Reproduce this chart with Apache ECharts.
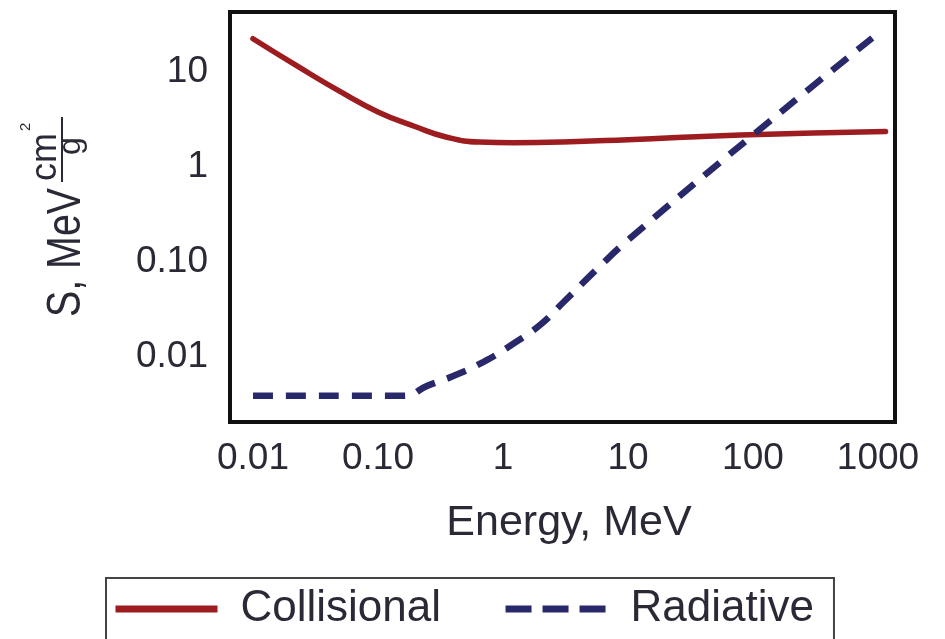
<!DOCTYPE html>
<html>
<head>
<meta charset="utf-8">
<script src="https://cdn.jsdelivr.net/npm/echarts@6/dist/echarts.min.js"></script>
<style>
  html, body { margin: 0; padding: 0; background: #ffffff; }
  #chart { width: 945px; height: 639px; }
</style>
</head>
<body>
<div id="chart"></div>
<script>
// Stopping power of electrons vs. energy (log-log)
const collisionalEnergy = [0.01, 0.022, 0.05, 0.1, 0.2, 0.35, 0.65, 1.2, 3, 10, 80, 1150];
const collisionalS      = [22.4, 11.8, 6.2, 3.8, 2.65, 2.07, 1.83, 1.80, 1.83, 1.94, 2.17, 2.36];

const radiativeEnergy = [0.01, 0.16, 0.25, 0.4, 0.7, 1.2, 2, 3, 6, 10, 100, 900];
const radiativeS      = [0.0039, 0.0039, 0.0050, 0.0063, 0.0089, 0.0137, 0.022, 0.037, 0.091, 0.17, 2.17, 22.8];

const xTickValues = [0.01, 0.1, 1, 10, 100, 1000];
const xTickLabels = ['0.01', '0.10', '1', '10', '100', '1000'];
const yTickValues = [0.01, 0.1, 1, 10];
const yTickLabels = ['0.01', '0.10', '1', '10'];

const seriesNames = ['Collisional', 'Radiative'];

const RED = '#9c1c20';
const NAVY = '#28286a';
const TEXT = '#2a2a36';
const SANS = '"Liberation Sans", Arial, sans-serif';

function decadeLabel(values, labels) {
  return function (v) {
    for (let i = 0; i < values.length; i++) {
      if (Math.abs(Math.log10(v) - Math.log10(values[i])) < 1e-6) return labels[i];
    }
    return '';
  };
}

function pairs(xs, ys) {
  return xs.map((x, i) => [x, ys[i]]);
}

// Rotated y-axis title: "S, MeV" followed by the cm²/g fraction
function titleText(x, y, text, size, scaleX) {
  return {
    type: 'text', x: x, y: y, scaleX: scaleX || 1,
    style: { x: 0, y: 0, text: text, font: size + 'px ' + SANS, fill: TEXT, verticalAlign: 'middle', align: 'left' }
  };
}

const chart = echarts.init(document.getElementById('chart'), null, { renderer: 'canvas' });

chart.setOption({
  backgroundColor: '#ffffff',
  animation: false,
  grid: {
    left: 230, right: 50, top: 12, bottom: 217,
    show: true, borderColor: '#111111', borderWidth: 4,
    backgroundColor: '#ffffff'
  },
  xAxis: {
    type: 'log',
    logBase: 10,
    min: 0.00655,
    max: 1368,
    name: 'Energy, MeV',
    nameLocation: 'middle',
    nameGap: 80,
    nameTextStyle: { fontFamily: SANS, fontSize: 43, color: TEXT, padding: [0, 0, 0, 13] },
    axisLine: { show: false },
    axisTick: { show: false },
    splitLine: { show: false },
    axisLabel: {
      formatter: decadeLabel(xTickValues, xTickLabels),
      fontFamily: SANS, fontSize: 37, color: TEXT, margin: 18
    }
  },
  yAxis: {
    type: 'log',
    logBase: 10,
    min: 0.00207,
    max: 42.8,
    axisLine: { show: false },
    axisTick: { show: false },
    splitLine: { show: false },
    axisLabel: {
      formatter: decadeLabel(yTickValues, yTickLabels),
      fontFamily: SANS, fontSize: 37, color: TEXT, margin: 22
    }
  },
  legend: {
    left: 106,
    top: 578,
    orient: 'horizontal',
    padding: [6, 20, 40, 6],
    borderColor: '#444444',
    borderWidth: 2,
    itemWidth: 102,
    itemHeight: 10,
    itemGap: 61,
    textStyle: { fontFamily: SANS, fontSize: 44, color: TEXT, lineHeight: 50, padding: [0, 0, 0, 18] },
    data: [
      { name: seriesNames[0], itemStyle: { opacity: 0 }, lineStyle: { width: 7, cap: 'butt' } },
      { name: seriesNames[1], itemStyle: { opacity: 0 }, lineStyle: { width: 7, type: [26, 11], cap: 'butt' } }
    ]
  },
  graphic: [{
    type: 'group',
    x: 67,
    y: 317,
    rotation: Math.PI / 2,
    children: [
      titleText(0, 0, 'S, MeV', 48, 0.82),
      titleText(136, -21, 'cm', 36, 1),
      titleText(186, -41, '2', 15, 1),
      { type: 'line', shape: { x1: 135, y1: -5, x2: 200, y2: -5 }, style: { stroke: TEXT, lineWidth: 2 } },
      titleText(162, 4, 'g', 32, 1)
    ]
  }],
  series: [
    {
      name: seriesNames[0],
      type: 'line',
      data: pairs(collisionalEnergy, collisionalS),
      smooth: 0.5,
      showSymbol: false,
      symbol: 'none',
      lineStyle: { color: RED, width: 5.5, cap: 'round' },
      itemStyle: { color: RED }
    },
    {
      name: seriesNames[1],
      type: 'line',
      data: pairs(radiativeEnergy, radiativeS),
      smooth: 0.5,
      showSymbol: false,
      symbol: 'none',
      lineStyle: { color: NAVY, width: 6.5, type: [20, 13], cap: 'butt' },
      itemStyle: { color: NAVY }
    }
  ]
});
</script>
</body>
</html>
